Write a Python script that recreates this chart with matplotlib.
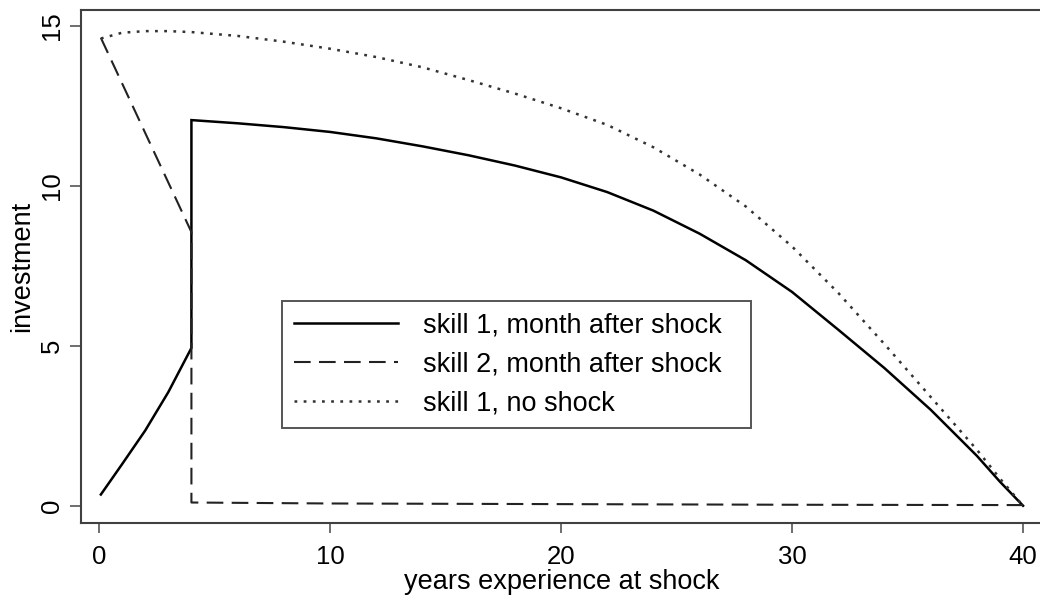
import matplotlib
matplotlib.use('Agg')
import matplotlib.pyplot as plt

# skill 1, month after shock (jumps at the shock, 4 years)
solid_x = [0.08, 1, 2, 3, 4, 4, 6, 8, 10, 12, 14, 16, 18, 20, 22, 24, 26, 28, 30, 32, 34, 36, 38, 39, 40]
solid_y = [0.35, 1.3, 2.35, 3.55, 4.93, 12.05, 11.95, 11.83, 11.68, 11.48, 11.23, 10.95, 10.63,
           10.26, 9.8, 9.22, 8.5, 7.67, 6.68, 5.5, 4.3, 3.0, 1.56, 0.75, 0.0]

# skill 2, month after shock
dash_x = [0.08, 4, 4, 10, 20, 30, 40]
dash_y = [14.62, 8.55, 0.1, 0.07, 0.05, 0.03, 0.02]

# skill 1, no shock
dot_x = [0.08, 1, 2, 3, 4, 6, 8, 10, 12, 14, 16, 18, 20, 22, 24, 26, 28, 30, 32, 34, 36, 38, 39, 40]
dot_y = [14.6, 14.78, 14.83, 14.83, 14.8, 14.68, 14.5, 14.28, 14.02, 13.7, 13.3, 12.88,
         12.42, 11.9, 11.2, 10.35, 9.35, 8.1, 6.65, 5.05, 3.4, 1.75, 0.85, 0.0]

labels = ['skill 1, month after shock', 'skill 2, month after shock', 'skill 1, no shock']
x_ticks = [0, 10, 20, 30, 40]
y_ticks = [0, 5, 10, 15]

W, H = 1040, 596
FS = 19.5
TICK_FS = 18.5

plt.rcParams.update({
    'font.family': ['Liberation Sans', 'DejaVu Sans'],
    'font.size': FS,
    'lines.scale_dashes': False,
})

fig = plt.figure(figsize=(W / 100, H / 100), dpi=100)
ax = fig.add_axes([81 / W, 1 - 523 / H, 961 / W, 513 / H])

ax.plot(solid_x, solid_y, color='black', lw=1.8, solid_joinstyle='miter', label=labels[0])
ax.plot(dash_x, dash_y, color='#222222', lw=1.5, linestyle=(0, (12, 6)), label=labels[1])
ax.plot(dot_x, dot_y, color='#333333', lw=1.8, linestyle=(0, (2.0, 4.6)), label=labels[2])

ax.set_xlim(-0.78, 40.82)
ax.set_ylim(-0.54, 15.49)
ax.set_xticks(x_ticks)
ax.set_yticks(y_ticks)

for s in ax.spines.values():
    s.set_color('#404040')
    s.set_linewidth(1.5)

ax.tick_params(axis='x', length=7.5, width=1.2, color='#555555', pad=8.5, labelsize=TICK_FS)
ax.tick_params(axis='y', length=8, width=1.2, color='#555555', pad=4, labelsize=TICK_FS,
               labelrotation=90)
for t in ax.get_yticklabels():
    t.set_va('center')

# the reference crops this label at the bottom edge; keep it just inside
ax.set_xlabel('years experience at shock', fontsize=FS, labelpad=0)
ax.set_ylabel('investment', fontsize=FS, labelpad=4)

leg = ax.legend(loc='upper left', mode='expand',
                bbox_to_anchor=(282 / W, 1 - 427 / H, 469 / W, 126 / H),
                bbox_transform=fig.transFigure, borderaxespad=0,
                frameon=True, fancybox=False, framealpha=1, edgecolor='#555555',
                handlelength=3.85, handletextpad=0.93, labelspacing=0.47,
                borderpad=0.43, fontsize=FS)
leg.get_frame().set_linewidth(1.4)

fig.savefig('out.png', dpi=100)
